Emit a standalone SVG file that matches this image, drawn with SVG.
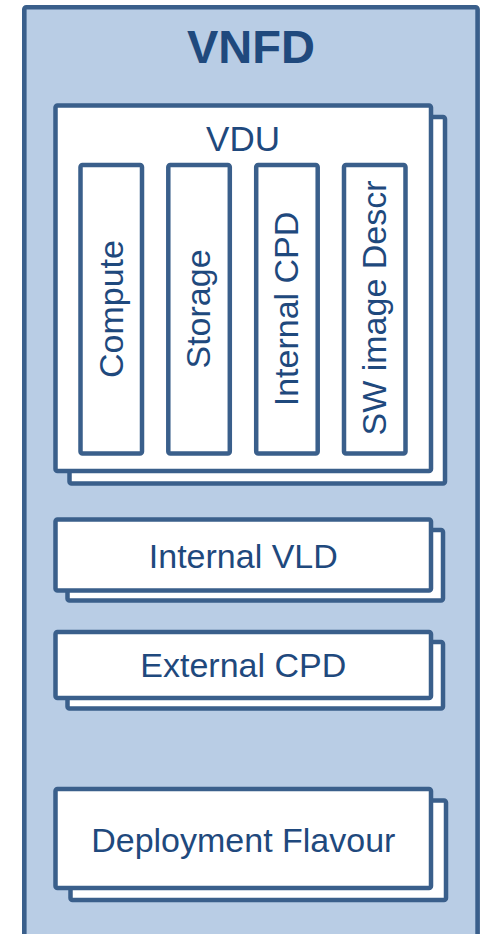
<svg xmlns="http://www.w3.org/2000/svg" width="481" height="934" viewBox="0 0 481 934">
<style>
.box{fill:#ffffff;stroke:#3A5F8B;stroke-width:4.5;stroke-linejoin:round}
.outer{fill:#B9CDE5;stroke:#3A5F8B;stroke-width:4.6;stroke-linejoin:round}
.t{font-family:"Liberation Sans",Arial,sans-serif;font-size:34px;fill:#1F497D;text-anchor:middle}
.title{font-family:"Liberation Sans",Arial,sans-serif;font-size:47px;font-weight:bold;fill:#1F497D;text-anchor:middle}
</style>
<g id="vnfd">
<rect class="outer" x="24.3" y="7.3" width="453.3" height="940" rx="2"/>
<text class="title" x="251" y="63">VNFD</text>
</g>
<g id="vdu">
<rect class="box" x="69.5" y="117" width="375.5" height="366.5" rx="2"/>
<rect class="box" x="55.5" y="105.5" width="375.5" height="365.5" rx="2"/>
<text class="t" x="243" y="150.5" style="font-size:35px">VDU</text>
</g>
<g id="compute">
<rect class="box" x="80.5" y="165" width="61.5" height="288.5" rx="2"/>
<text class="t" transform="translate(122.5,309) rotate(-90)">Compute</text>
</g>
<g id="storage">
<rect class="box" x="168.3" y="165" width="61.5" height="288.5" rx="2"/>
<text class="t" transform="translate(210.3,309) rotate(-90)">Storage</text>
</g>
<g id="internal-cpd">
<rect class="box" x="256.2" y="165" width="61.5" height="288.5" rx="2"/>
<text class="t" transform="translate(297.7,309) rotate(-90)">Internal CPD</text>
</g>
<g id="sw-image-descr">
<rect class="box" x="344" y="165" width="61.5" height="288.5" rx="2"/>
<text class="t" transform="translate(386,308) rotate(-90)">SW image Descr</text>
</g>
<g id="internal-vld">
<rect class="box" x="67.5" y="530" width="375.5" height="70.5" rx="2"/>
<rect class="box" x="55.5" y="519.5" width="375.5" height="71" rx="2"/>
<text class="t" x="243.3" y="568">Internal VLD</text>
</g>
<g id="external-cpd">
<rect class="box" x="67.5" y="642" width="375.5" height="66.5" rx="2"/>
<rect class="box" x="55.5" y="632" width="375.5" height="66" rx="2"/>
<text class="t" x="243.3" y="676.5">External CPD</text>
</g>
<g id="deployment-flavour">
<rect class="box" x="70.5" y="800.5" width="375.5" height="99.5" rx="2"/>
<rect class="box" x="55.5" y="789" width="375.5" height="99" rx="2"/>
<text class="t" x="243.3" y="851.5">Deployment Flavour</text>
</g>
<g id="connectors"></g>
</svg>
